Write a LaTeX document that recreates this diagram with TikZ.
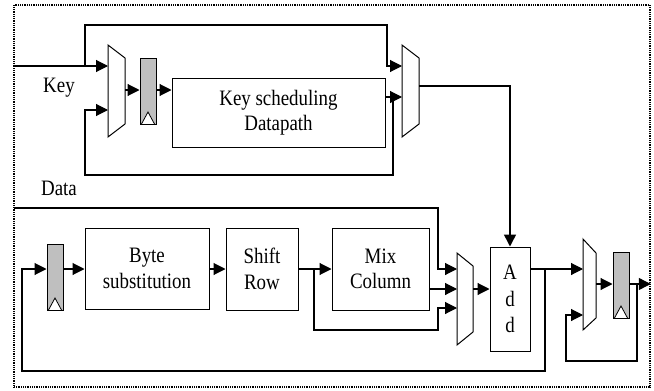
\documentclass[tikz,border=0pt]{standalone}
\usepackage{fontspec}
\setmainfont[FakeStretch=0.86]{Liberation Serif}
\usetikzlibrary{arrows.meta}
\begin{document}
\begin{tikzpicture}[x=1pt,y=-1pt,
  wire/.style={line width=1.1pt},
  arr/.style={wire,-{Triangle[length=12pt,width=12pt]}},
  box/.style={draw,line width=1pt,inner sep=0pt,align=center,font=\fontsize{22}{25.5}\selectfont},
  reg/.style={draw,line width=1pt,fill=black!25,minimum width=16pt,minimum height=66pt,inner sep=0pt,
    path picture={\draw[line width=0.8pt,fill=white]
      ([xshift=-6.5pt]path picture bounding box.south) --
      ([yshift=12pt]path picture bounding box.south) --
      ([xshift=6.5pt]path picture bounding box.south);}},
  muxs/.style={draw,line width=1pt,fill=white},
  lbl/.style={font=\fontsize{22}{25}\selectfont,inner sep=0pt}]
\useasboundingbox (0,0) rectangle (654,391);
\node[draw,line width=1.6pt,dash pattern=on 1pt off 0.8pt,minimum width=636pt,minimum height=382pt,inner sep=0pt] (frame) at (332,196) {};

% key part
\node[box,minimum width=213pt,minimum height=69pt] (ks) at (278.5,112.5) {Key scheduling\\Datapath};
\node[reg] (r1) at (148,91) {};
\draw[muxs] (108,45) -- (125,58) -- (125,124) -- (108,137) -- cycle;
\draw[muxs] (402,45) -- (419,58) -- (419,124) -- (402,137) -- cycle;
\coordinate (m1a) at (108,66); \coordinate (m1b) at (108,110); \coordinate (m1o) at (125,90);
\coordinate (m2a) at (402,66); \coordinate (m2b) at (402,97); \coordinate (m2o) at (419,86);

% data part
\node[box,minimum width=124pt,minimum height=81pt] (bs) at (147,268.5) {Byte\\substitution};
\node[box,minimum width=72pt,minimum height=82pt] (sr) at (262,269) {Shift\\Row};
\node[box,minimum width=97pt,minimum height=82pt] (mc) at (380.5,269) {Mix\\Column};
\node[box,minimum width=40pt,minimum height=104pt,font=\fontsize{22}{26.5}\selectfont] (add) at (510,299) {A\\d\\d};
\node[reg] (r3) at (55,277) {};
\node[reg] (r4) at (621,285) {};
\draw[muxs] (457,253) -- (473,266) -- (473,332) -- (457,345) -- cycle;
\draw[muxs] (583,239) -- (596,253) -- (596,318) -- (583,330) -- cycle;
\coordinate (m3a) at (457,269); \coordinate (m3b) at (457,289); \coordinate (m3c) at (457,308); \coordinate (m3o) at (473,289);
\coordinate (m4a) at (583,269); \coordinate (m4b) at (583,315); \coordinate (m4o) at (596,284);

% labels
\node[lbl] (keyl) at (59,88) {Key};
\node[lbl] (datal) at (59,188) {Data};

% key connectors
\coordinate (kin) at (14,66);
\coordinate (kb) at (85,66);
\coordinate (kt) at (387,25);
\draw[arr] (kin) -- (m1a);
\draw[arr] (kb) |- (kt) |- (m2a);
\draw[arr] (m1o) -- (r1.west |- m1o);
\draw[arr] (r1.east |- m1o) -- (ks.west |- m1o);
\draw[arr] (ks.east |- m2b) -- (m2b);
\coordinate (fb1) at (393,97);
\coordinate (fb2) at (85,175);
\draw[arr] (fb1) |- (fb2) |- (m1b);
\draw[arr,line width=1.5pt] (m2o) -| (add.north);

% data connectors
\coordinate (din) at (14,208);
\coordinate (dc) at (438,208);
\draw[arr] (din) -- (dc) |- (m3a);
\draw[arr] (r3.east |- m3a) -- (bs.west |- m3a);
\draw[arr] (bs.east |- m3a) -- (sr.west |- m3a);
\draw[arr] (sr.east |- m3a) -- (mc.west |- m3a);
\coordinate (bp) at (314,269);
\coordinate (bpc) at (438,330);
\draw[arr] (bp) |- (bpc) |- (m3c);
\draw[arr] (mc.east |- m3b) -- (m3b);
\draw[arr] (m3o) -- (add.west |- m3o);
\draw[arr] (add.east |- m3a) -- (m4a);
\coordinate (ab) at (545,269);
\coordinate (abc) at (22,371);
\draw[arr] (ab) |- (abc) |- (r3.west |- m3a);
\draw[arr] (m4o) -- (r4.west |- m4o);
\draw[arr] (r4.east |- m4o) -- (frame.east |- m4o);
\coordinate (rb) at (637,284);
\coordinate (rbc) at (566,361);
\draw[arr] (rb) |- (rbc) |- (m4b);
\end{tikzpicture}
\end{document}
